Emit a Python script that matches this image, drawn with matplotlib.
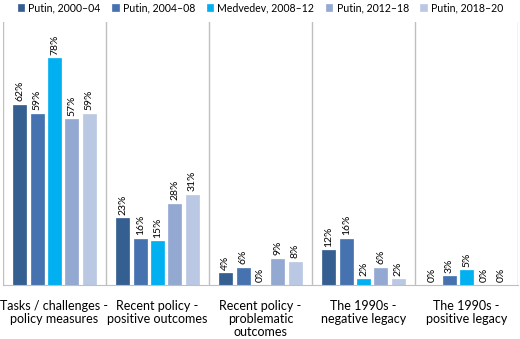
import matplotlib
matplotlib.use("Agg")
import matplotlib.pyplot as plt
import numpy as np

plt.rcParams['font.family'] = ['Lato', 'DejaVu Sans']

categories = ["Tasks / challenges -\npolicy measures",
              "Recent policy -\npositive outcomes",
              "Recent policy -\nproblematic\noutcomes",
              "The 1990s -\nnegative legacy",
              "The 1990s -\npositive legacy"]
series = ["Putin, 2000\u201304", "Putin, 2004\u201308", "Medvedev, 2008\u201312",
          "Putin, 2012\u201318", "Putin, 2018\u201320"]
values = [
    [62, 23, 4, 12, 0],
    [59, 16, 6, 16, 3],
    [78, 15, 0, 2, 5],
    [57, 28, 9, 6, 0],
    [59, 31, 8, 2, 0],
]
colors = ["#355E91", "#4673B0", "#00B0F0", "#94A9D2", "#BAC8E3"]

fig = plt.figure(figsize=(5.2, 3.39), dpi=100)
ax = fig.add_axes([3/520, 54/339, 515/520, 263/339])

x = np.arange(len(categories))
step = 0.168
width = 0.126
for i, (name, vals) in enumerate(zip(series, values)):
    pos = x + (i - 2) * step
    ax.bar(pos, vals, width, color=colors[i], label=name, edgecolor=colors[i], linewidth=0.5)
    for p, v in zip(pos, vals):
        ax.text(p, v + 1.2, f"{v}%", rotation=90, ha='center', va='bottom', fontsize=7.5)

for b in np.arange(len(categories) + 1) - 0.5:
    ax.axvline(b, color='#BFBFBF', linewidth=1)

ax.set_xlim(-0.5, len(categories) - 0.5)
ax.set_ylim(0, 90.5)
ax.set_yticks([])
ax.set_xticks(x)
ax.set_xticklabels(categories, fontsize=9, linespacing=1.1)
ax.tick_params(axis='x', length=0, pad=11)
for s in ['top', 'left', 'right']:
    ax.spines[s].set_visible(False)
ax.spines['bottom'].set_color('#BFBFBF')

ax.legend(loc='lower center', bbox_to_anchor=(0.5, 1.0), ncol=5, frameon=False,
          fontsize=7.6, handlelength=0.6, handleheight=0.6, handletextpad=0.4,
          columnspacing=1.1, borderaxespad=0.4)

fig.savefig("out.png", dpi=100)
